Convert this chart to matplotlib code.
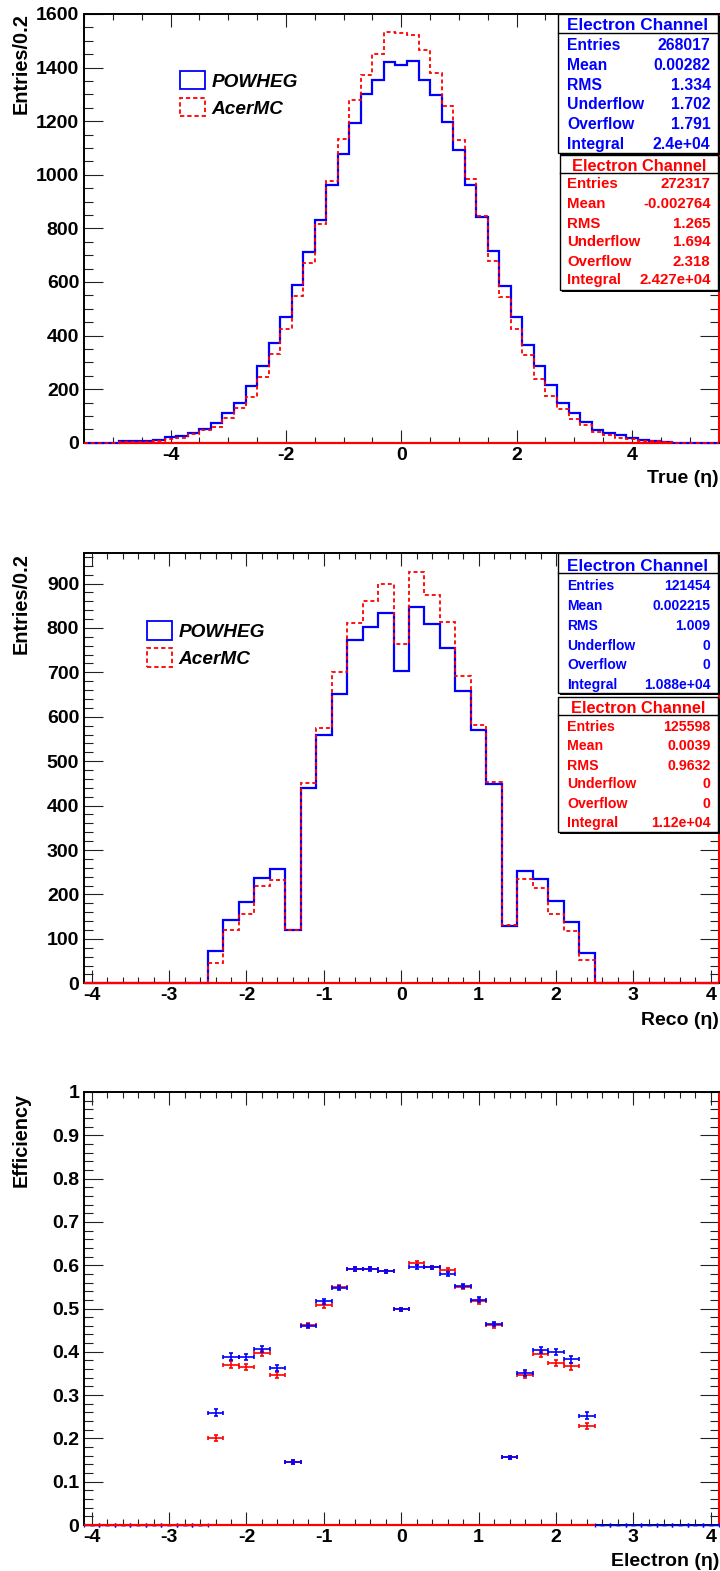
import numpy as np
import matplotlib
matplotlib.use("Agg")
import matplotlib.pyplot as plt
from matplotlib.patches import Rectangle
from matplotlib.lines import Line2D
from matplotlib.ticker import MultipleLocator, FuncFormatter

plt.rcParams['font.family'] = ['Liberation Sans', 'DejaVu Sans']
plt.rcParams['font.weight'] = 'bold'
plt.rcParams['axes.unicode_minus'] = False

BLUE = '#0000ff'
RED = '#ff0000'

# ---------------- data ----------------
# truth-level electron eta, 0.2 wide bins on [-5.5, 5.5]
true_edges = np.round(np.linspace(-5.5, 5.5, 56), 2)
true_powheg = [0, 0, 0, 5, 5, 6, 10, 20, 26, 37, 52, 73, 111, 150, 213, 286, 371, 468,
               588, 712, 831, 963, 1078, 1193, 1303, 1354, 1419, 1410, 1423, 1354, 1299,
               1196, 1094, 963, 843, 717, 584, 468, 366, 286, 216, 147, 110, 78, 48, 37,
               27, 17, 10, 6, 4, 0, 0, 0, 0]
true_acermc = [0, 0, 0, 1, 2, 3, 6, 13, 17, 33, 46, 59, 92, 131, 169, 247, 332, 425,
               549, 671, 817, 975, 1135, 1280, 1373, 1450, 1533, 1530, 1521, 1466, 1378,
               1257, 1129, 983, 847, 677, 545, 425, 328, 238, 175, 127, 88, 66, 41, 27,
               19, 13, 8, 5, 2, 0, 0, 0, 0]

# reconstructed electron eta, 0.2 wide bins on [-4.1, 4.1]
reco_edges = np.round(np.linspace(-4.1, 4.1, 42), 2)
reco_powheg = [0, 0, 0, 0, 0, 0, 0, 0,
               72, 142, 183, 237, 258, 119, 440, 558, 651, 772, 801, 834, 704, 847,
               808, 754, 658, 571, 448, 128, 253, 234, 185, 139, 69,
               0, 0, 0, 0, 0, 0, 0, 0]
reco_acermc = [0, 0, 0, 0, 0, 0, 0, 0,
               46, 120, 155, 219, 232, 120, 450, 574, 700, 811, 860, 899, 764, 925,
               875, 814, 691, 582, 453, 131, 234, 214, 157, 118, 52,
               0, 0, 0, 0, 0, 0, 0, 0]

# efficiency (reco / true) per eta bin
eff_eta = [-2.4, -2.2, -2.0, -1.8, -1.6, -1.4, -1.2, -1.0, -0.8, -0.6, -0.4, -0.2, 0.0,
           0.2, 0.4, 0.6, 0.8, 1.0, 1.2, 1.4, 1.6, 1.8, 2.0, 2.2, 2.4]
eff_powheg = [0.259, 0.389, 0.389, 0.406, 0.362, 0.145, 0.460, 0.517, 0.547, 0.591,
              0.591, 0.586, 0.498, 0.596, 0.595, 0.580, 0.552, 0.520, 0.464, 0.156,
              0.352, 0.405, 0.399, 0.383, 0.252]
eff_powheg_err = [0.008, 0.008, 0.007, 0.007, 0.007, 0.004, 0.005, 0.006, 0.005, 0.004,
                  0.004, 0.004, 0.004, 0.004, 0.004, 0.004, 0.005, 0.006, 0.005, 0.004,
                  0.007, 0.007, 0.007, 0.008, 0.008]
eff_acermc = [0.200, 0.370, 0.365, 0.398, 0.347, 0.146, 0.462, 0.508, 0.549, 0.591,
              0.592, 0.586, 0.498, 0.605, 0.595, 0.590, 0.550, 0.517, 0.461, 0.156,
              0.347, 0.396, 0.374, 0.367, 0.228]
eff_acermc_err = [0.007, 0.008, 0.007, 0.007, 0.007, 0.004, 0.005, 0.006, 0.005, 0.004,
                  0.004, 0.004, 0.004, 0.004, 0.004, 0.004, 0.005, 0.006, 0.005, 0.004,
                  0.007, 0.007, 0.007, 0.008, 0.007]
# bins outside the acceptance (zero efficiency)
eff_zero_eta = [-4.0, -3.8, -3.6, -3.4, -3.2, -3.0, -2.8, -2.6,
                2.6, 2.8, 3.0, 3.2, 3.4, 3.6, 3.8, 4.0]
eff_zero_val = [0.0] * 16

series_names = ['POWHEG', 'AcerMC']
stat_names = ['Entries', 'Mean', 'RMS', 'Underflow', 'Overflow', 'Integral']
stats_true_powheg = ['268017', '0.00282', '1.334', '1.702', '1.791', '2.4e+04']
stats_true_acermc = ['272317', '-0.002764', '1.265', '1.694', '2.318', '2.427e+04']
stats_reco_powheg = ['121454', '0.002215', '1.009', '0', '0', '1.088e+04']
stats_reco_acermc = ['125598', '0.0039', '0.9632', '0', '0', '1.12e+04']
stats_title = 'Electron Channel'

# ---------------- layout helpers (pixel based) ----------------
W, H = 720, 1571
fig = plt.figure(figsize=(W / 100, H / 100), dpi=100)


def fx(px):
    return px / W


def fy(py):
    return 1 - py / H


def make_axes(top, bottom, left=84, right=718.5):
    return fig.add_axes([fx(left), fy(bottom), (right - left) / W, (bottom - top) / H])


fmt = FuncFormatter(lambda v, p: '%g' % round(v, 6))


def style_axes(ax, xlim, ylim, xmaj, xmin, ymaj, ymin):
    ax.set_xlim(*xlim)
    ax.set_ylim(*ylim)
    ax.xaxis.set_major_locator(MultipleLocator(xmaj))
    ax.xaxis.set_minor_locator(MultipleLocator(xmin))
    ax.yaxis.set_major_locator(MultipleLocator(ymaj))
    ax.yaxis.set_minor_locator(MultipleLocator(ymin))
    ax.xaxis.set_major_formatter(fmt)
    ax.yaxis.set_major_formatter(fmt)
    ax.tick_params(which='both', direction='in', top=True, right=True,
                   width=0.8, color='#222222', labelsize=14)
    ax.tick_params(axis='y', which='major', length=13.5, pad=3.5)
    ax.tick_params(axis='y', which='minor', length=6.8)
    ax.tick_params(axis='x', which='major', length=9.3, pad=3)
    ax.tick_params(axis='x', which='minor', length=4.6)
    for s in ax.spines.values():
        s.set_linewidth(1.4)
    ax.spines['right'].set_color(RED)
    ax.spines['right'].set_linewidth(1.5)


def xtitle(text, baseline):
    fig.text(fx(719), fy(baseline), text, ha='right', va='baseline', fontsize=14)


def ytitle(text, top):
    fig.text(fx(21), fy(top), text, rotation=90, ha='center', va='top', fontsize=14.3)


def legend(box_left, top1, top2):
    entries = [(series_names[0], BLUE, '-', top1), (series_names[1], RED, (0, (2.4, 1.6)), top2)]
    for name, col, ls, top in entries:
        r = Rectangle((fx(box_left), fy(top + 18.5)), 25 / W, 18.5 / H,
                      transform=fig.transFigure, facecolor='none', edgecolor=col,
                      linestyle=ls, linewidth=1.3, zorder=8)
        fig.add_artist(r)
        fig.text(fx(box_left + 31.5), fy(top + 16), name, ha='left', va='baseline',
                 fontsize=13.7, style='italic', zorder=8)


def stats_box(top, bottom, line_y, title_base, row_bases, values, color,
              tsize, rsize, left=558, right=718):
    shadow = Rectangle((fx(left + 2), fy(bottom + 2)), (right - left) / W, (bottom - top) / H,
                       transform=fig.transFigure, facecolor='black', edgecolor='none', zorder=9)
    box = Rectangle((fx(left), fy(bottom)), (right - left) / W, (bottom - top) / H,
                    transform=fig.transFigure, facecolor='white', edgecolor='black',
                    linewidth=1.0, zorder=10)
    fig.add_artist(shadow)
    fig.add_artist(box)
    fig.add_artist(Line2D([fx(left), fx(right)], [fy(line_y)] * 2, color='black',
                          linewidth=1.0, transform=fig.transFigure, zorder=11))
    fig.text(fx((left + right) / 2), fy(title_base), stats_title, ha='center',
             va='baseline', color=color, fontsize=tsize, zorder=12)
    for name, val, yb in zip(stat_names, values, row_bases):
        fig.text(fx(567), fy(yb), name, ha='left', va='baseline', color=color,
                 fontsize=rsize, zorder=12)
        fig.text(fx(710.5), fy(yb), val, ha='right', va='baseline', color=color,
                 fontsize=rsize, zorder=12)


# ---------------- panel 1: true eta ----------------
ax1 = make_axes(14, 442.7)
ax1.stairs(true_powheg, true_edges, color=BLUE, linewidth=1.6, zorder=3, clip_on=False)
ax1.stairs(true_acermc, true_edges, color=RED, linewidth=1.3,
           linestyle=(0, (2.2, 1.6)), zorder=4, clip_on=False)
ax1.hlines(0, -4.9, 4.7, color=RED, linewidth=1.6, zorder=4, clip_on=False)
style_axes(ax1, (-5.5, 5.5), (0, 1600), 2, 0.5, 200, 50)
xtitle('True (η)', 483)
ytitle('Entries/0.2', 13)
legend(180, 70.7, 97.7)
stats_box(14, 152.7, 32.7, 30, [50, 69.5, 89.5, 109.3, 129, 149],
          stats_true_powheg, BLUE, 12.3, 11.3)
stats_box(155, 290, 173.3, 170.7, [188.3, 208.3, 227.7, 246, 265.7, 284.3],
          stats_true_acermc, RED, 11.8, 10.8, left=560)

# ---------------- panel 2: reco eta ----------------
ax2 = make_axes(553.3, 983.3)
ax2.stairs(reco_powheg, reco_edges, color=BLUE, linewidth=1.6, zorder=3, clip_on=False)
ax2.stairs(reco_acermc, reco_edges, color=RED, linewidth=1.3,
           linestyle=(0, (2.2, 1.6)), zorder=4, clip_on=False)
ax2.hlines(0, -4.1, 4.1, color=RED, linewidth=1.6, zorder=4, clip_on=False)
style_axes(ax2, (-4.1, 4.1), (0, 968), 1, 0.2, 100, 20)
xtitle('Reco (η)', 1025)
ytitle('Entries/0.2', 553)
legend(147, 621, 648)
stats_box(553.3, 693.3, 573.3, 570.7, [590, 610, 630, 650, 669.3, 689.3],
          stats_reco_powheg, BLUE, 12.3, 10)
stats_box(696.7, 831.7, 714.7, 712.7, [730.7, 750, 770, 788.3, 807.7, 826.7],
          stats_reco_acermc, RED, 11.8, 10.2)

# ---------------- panel 3: efficiency ----------------
ax3 = make_axes(1092, 1525)
ax3.errorbar(eff_zero_eta, eff_zero_val, xerr=0.1, yerr=0.0, fmt='none', ecolor=BLUE,
             elinewidth=1.0, capsize=1.4, capthick=1.0, zorder=3, clip_on=False)
ax3.hlines(0, -4.1, 2.5, color=RED, linewidth=1.6, zorder=4, clip_on=False)
ax3.errorbar(eff_eta, eff_acermc, xerr=0.1, yerr=eff_acermc_err, fmt='none', ecolor=RED,
             elinewidth=1.2, capsize=1.5, capthick=1.2, zorder=5)
ax3.errorbar(eff_eta, eff_powheg, xerr=0.1, yerr=eff_powheg_err, fmt='none', ecolor=BLUE,
             elinewidth=1.2, capsize=1.5, capthick=1.2, zorder=6)
style_axes(ax3, (-4.1, 4.1), (0, 1.0), 1, 0.2, 0.1, 0.02)
xtitle('Electron (η)', 1566)
ytitle('Efficiency', 1093)

fig.savefig('out.png', dpi=100)
